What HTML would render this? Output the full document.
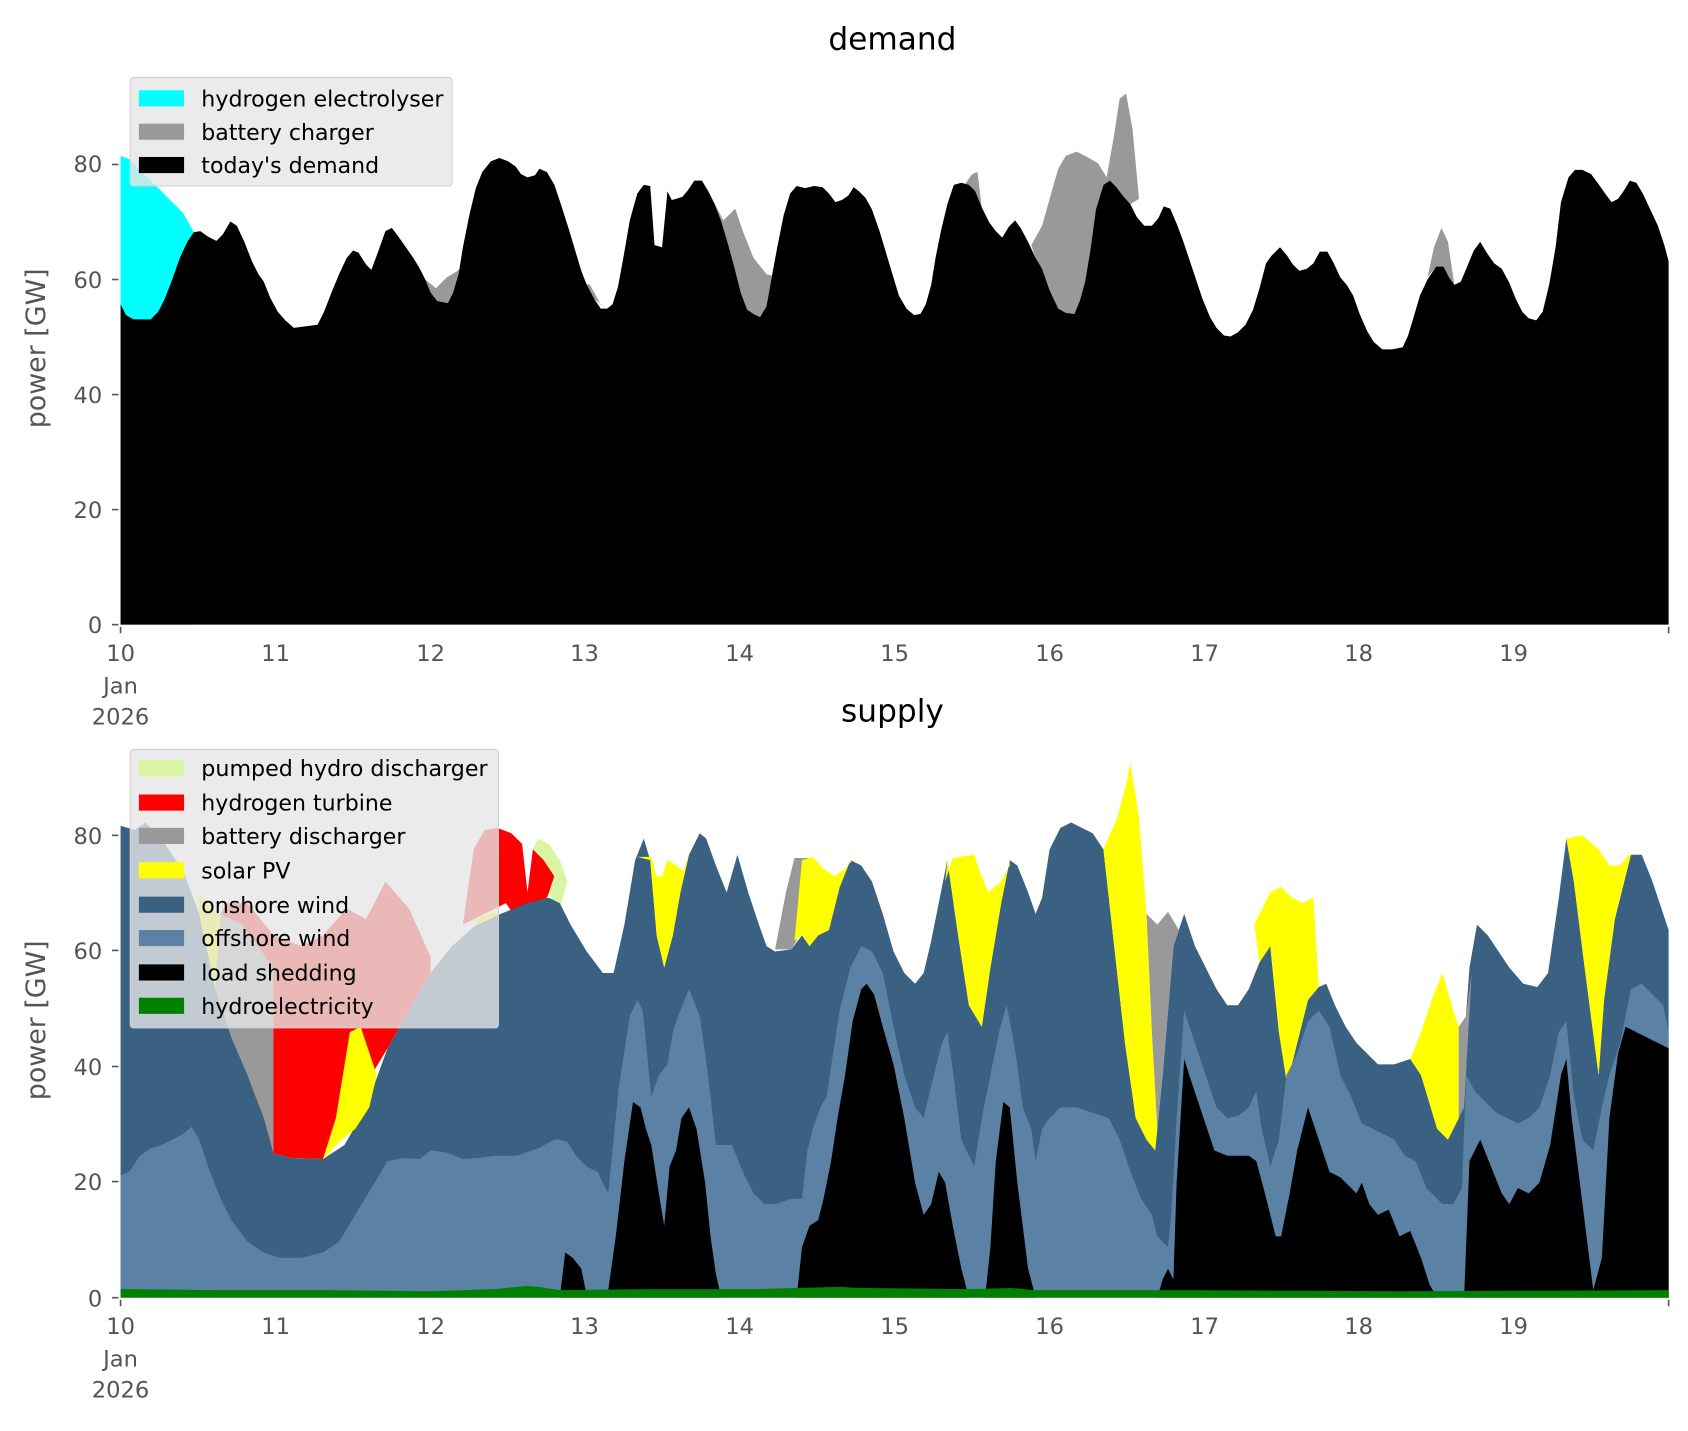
<!DOCTYPE html>
<html><head><meta charset="utf-8"><style>
html,body{margin:0;padding:0;background:#fff;}
svg{display:block;}
text{font-family:"DejaVu Sans","Liberation Sans",sans-serif;}
</style></head><body>
<svg width="1688" height="1431" viewBox="0 0 1568 1331" preserveAspectRatio="none" xmlns="http://www.w3.org/2000/svg">
<rect width="1568" height="1331" fill="#fff"/>
<!-- ===== DEMAND ===== -->
<text x="829" y="46" font-size="29" text-anchor="middle" fill="#000">demand</text>
<polygon fill="#00ffff" points="112,581 112,145 120,148 130,158 140,168 150,178 160,188 170,198 180,216 180,581"/>
<polygon fill="#999" points="395,260 405,268 415,258 425,252 432,245 430,275 421,272 416,282 406,280 400,272"/>
<polygon fill="#999" points="538,262 548,265 558,283 564,287 552,278 545,270"/>
<polygon fill="#999" points="664,190 672,205 683,194 690,215 700,240 712,255 720,257 717,257 712,285 706,295 700,292 694,288 688,272 682,248 676,226 670,206"/>
<polygon fill="#999" points="896,172 903,162 908,160 912,193 906,178"/>
<polygon fill="#999" points="958,228 968,210 975,185 983,157 990,145 1000,141 1010,146 1020,152 1028,165 1035,125 1040,92 1046,87 1052,120 1058,185 1050,190 1043,182 1037,174 1031,168 1025,172 1018,195 1013,232 1008,262 1003,280 998,292 990,291 983,287 975,270 968,250 962,240"/>
<polygon fill="#999" points="1326,258 1332,230 1339,212 1345,225 1351,265 1346,258 1341,248 1334,248"/>
<polygon fill="#000" points="112,581 112,283 117,293 124,297 140,297 147,290 153,278 160,260 167,240 174,225 180,216 186,215 193,220 201,224 207,218 214,206 220,210 227,225 234,243 240,255 245,262 251,277 258,290 265,298 273,305 280,304 295,302 301,290 308,272 315,255 322,240 328,233 333,235 340,246 345,251 352,232 358,215 364,212 370,220 377,230 384,240 390,250 395,260 400,272 406,280 416,282 421,272 426,255 430,230 436,200 442,175 448,160 456,150 464,147 472,150 479,155 484,162 490,165 497,163 501,157 508,160 515,172 521,190 528,212 534,232 540,252 545,265 552,278 558,287 564,287 569,283 574,267 579,240 585,205 592,180 598,172 604,173 608,228 615,230 620,178 624,186 628,185 634,183 639,177 645,168 652,168 658,178 664,190 670,206 676,226 682,248 688,272 694,288 700,292 706,295 712,285 717,257 722,230 728,200 734,180 740,173 748,175 756,173 764,174 770,180 776,188 782,186 788,182 793,174 798,178 804,184 810,195 817,215 823,235 829,255 835,275 842,287 849,293 855,292 860,283 865,265 869,240 874,215 880,190 886,172 893,170 900,172 906,178 912,193 919,207 925,215 931,221 937,211 943,205 948,212 955,225 962,240 968,250 975,270 983,287 990,291 998,292 1003,280 1008,262 1013,232 1018,195 1025,172 1031,168 1037,174 1043,182 1050,190 1056,202 1063,210 1070,210 1076,203 1081,192 1087,194 1093,208 1099,224 1105,242 1111,260 1117,278 1124,295 1130,305 1137,312 1143,313 1150,309 1157,302 1164,288 1170,268 1176,245 1181,238 1189,230 1195,237 1201,246 1207,252 1214,250 1220,245 1226,234 1233,234 1239,245 1245,258 1251,265 1257,275 1263,292 1270,308 1276,318 1284,325 1293,325 1303,323 1308,312 1314,292 1319,275 1326,260 1334,248 1341,248 1346,258 1351,265 1357,262 1362,250 1369,233 1375,225 1381,235 1388,245 1395,250 1402,263 1408,278 1414,290 1420,296 1427,298 1433,290 1439,265 1445,230 1450,188 1457,165 1463,158 1470,158 1478,162 1484,170 1491,180 1497,188 1503,185 1508,178 1514,168 1520,170 1526,180 1533,195 1540,210 1546,228 1550,243 1550,581"/>
<rect x="121" y="72" width="299" height="101" rx="3" fill="#e6e6e6" fill-opacity="0.8" stroke="#d0d0d0" stroke-width="1"/>
<rect x="129" y="84" width="42" height="15" fill="#00ffff"/>
<rect x="129" y="115" width="42" height="15" fill="#999"/>
<rect x="129" y="146" width="42" height="15" fill="#000"/>
<g font-size="20.5" fill="#000">
<text x="187" y="99" textLength="225" lengthAdjust="spacingAndGlyphs">hydrogen electrolyser</text>
<text x="187" y="130">battery charger</text>
<text x="187" y="161">today's demand</text>
</g>
<g font-size="21" fill="#555">
<text x="95" y="160" text-anchor="end">80</text>
<text x="95" y="268" text-anchor="end">60</text>
<text x="95" y="375" text-anchor="end">40</text>
<text x="95" y="482" text-anchor="end">20</text>
<text x="95" y="589" text-anchor="end">0</text>
<text transform="translate(42,324) rotate(-90)" font-size="25" text-anchor="middle">power [GW]</text>
<text x="112" y="615" text-anchor="middle">10</text>
<text x="112" y="645" text-anchor="middle">Jan</text>
<text x="112" y="674" text-anchor="middle">2026</text>
<text x="256" y="615" text-anchor="middle">11</text>
<text x="400" y="615" text-anchor="middle">12</text>
<text x="543" y="615" text-anchor="middle">13</text>
<text x="687" y="615" text-anchor="middle">14</text>
<text x="831" y="615" text-anchor="middle">15</text>
<text x="975" y="615" text-anchor="middle">16</text>
<text x="1119" y="615" text-anchor="middle">17</text>
<text x="1262" y="615" text-anchor="middle">18</text>
<text x="1406" y="615" text-anchor="middle">19</text>
</g>
<g stroke="#555" stroke-width="1.5">
<line x1="104" y1="153" x2="110" y2="153"/><line x1="104" y1="260" x2="110" y2="260"/><line x1="104" y1="367" x2="110" y2="367"/><line x1="104" y1="474" x2="110" y2="474"/><line x1="104" y1="581" x2="110" y2="581"/>
<line x1="112" y1="583" x2="112" y2="589"/><line x1="1550" y1="583" x2="1550" y2="589"/>
</g>

<!-- ===== SUPPLY ===== -->
<text x="829" y="671" font-size="29" text-anchor="middle" fill="#000">supply</text>
<polygon fill="#ff0000" points="186,850 200,860 210,840 230,840 254,870 280,880 300,870 322,845 340,855 358,820 380,845 400,890 400,905 380,940 360,975 345,1000 330,1030 315,1055 300,1078 270,1077 254,1073"/>
<polygon fill="#ff0000" points="430,860 440,790 450,772 462,770 475,775 485,785 490,830 495,790 500,785 505,800 515,815 510,830 500,855 490,870 480,855 470,840 450,850"/>
<polygon fill="#d9f5a4" points="495,790 500,780 510,785 520,800 527,820 520,845 515,840 510,830 515,815 505,800"/>
<polygon fill="#999" points="505,848 515,838 522,848 518,868 507,880"/>
<polygon fill="#ffff00" points="440,855 460,848 470,855 480,870 490,876 495,870 490,882 480,880 465,870 450,868"/>
<polygon fill="#999" points="205,850 225,860 254,900 254,1073 245,1040 230,1000 215,965 200,920"/>
<polygon fill="#ffff00" points="185,830 200,850 205,850 200,920 210,960 205,962 195,920 185,870"/>
<polygon fill="#3b6182" points="112,1207 112,768 125,772 135,765 150,780 170,810 185,850 200,920 215,965 230,1000 245,1040 254,1073 270,1077 300,1078 320,1065 340,1030 360,975 380,940 400,905 420,880 440,862 465,850 490,840 510,835 520,840 530,860 545,885 560,905 570,905 580,860 585,830 590,800 598,780 604,800 610,870 617,900 625,870 632,830 640,795 650,775 656,780 665,805 675,830 685,795 695,830 705,860 712,880 720,885 735,883 745,870 752,880 760,870 770,865 780,825 790,800 800,805 810,820 820,850 830,885 840,905 850,915 858,905 865,875 872,840 880,800 890,870 900,935 912,955 920,900 930,840 938,800 945,805 955,830 962,850 968,835 975,790 985,770 995,765 1005,770 1015,775 1025,790 1035,880 1045,970 1055,1040 1065,1060 1073,1070 1080,1000 1090,880 1100,850 1110,880 1120,900 1130,920 1140,935 1150,935 1160,920 1170,895 1180,880 1188,960 1195,1005 1200,990 1215,930 1225,918 1232,915 1240,935 1250,955 1260,970 1270,980 1280,990 1295,990 1310,985 1320,1000 1335,1050 1345,1060 1355,1040 1365,900 1372,860 1382,870 1392,885 1402,900 1415,915 1428,918 1438,905 1448,835 1455,780 1462,820 1472,900 1485,1000 1490,930 1500,855 1515,795 1525,795 1535,820 1550,865 1550,1207"/>
<polygon fill="#ffff00" points="300,1078 312,1040 325,960 335,955 345,985 350,1000 343,1030 330,1050 315,1062"/>
<polygon fill="#ffff00" points="592,797 605,797 610,815 615,815 620,800 625,803 635,810 640,795 632,830 625,870 617,900 610,870 604,800"/>
<polygon fill="#999" points="720,883 730,830 738,798 752,798 745,830 740,875 735,883"/>
<polygon fill="#ffff00" points="738,875 745,800 755,797 765,808 775,815 785,808 792,800 790,800 780,825 770,865 760,870 752,880 745,870"/>
<polygon fill="#ffff00" points="878,820 885,798 905,795 910,810 918,830 930,820 938,805 938,800 930,840 920,900 912,955 900,935 890,870 880,800"/>
<polygon fill="#ffff00" points="1025,790 1038,760 1046,730 1050,710 1058,760 1065,850 1070,960 1075,1050 1073,1070 1065,1060 1055,1040 1045,970 1035,880"/>
<polygon fill="#999" points="1065,850 1075,860 1085,848 1095,865 1100,850 1090,880 1080,1000 1075,1050 1070,960"/>
<polygon fill="#ffff00" points="1165,860 1180,830 1190,825 1200,835 1210,840 1220,835 1225,918 1215,930 1200,990 1195,1005 1188,960 1180,880 1170,895"/>
<polygon fill="#ffff00" points="1310,985 1320,960 1330,930 1340,905 1350,940 1355,955 1355,1040 1345,1060 1335,1050 1320,1000"/>
<polygon fill="#999" points="1355,955 1362,945 1367,905 1360,1030 1355,1040"/>
<polygon fill="#ffff00" points="1455,780 1470,777 1485,790 1495,805 1505,805 1513,795 1515,795 1500,855 1490,930 1485,1000 1472,900 1462,820"/>
<polygon fill="#5b82a5" points="112,1207 112,1093 120,1090 130,1075 140,1068 150,1065 160,1060 170,1055 178,1048 185,1060 195,1090 205,1115 215,1135 230,1155 245,1165 260,1170 280,1170 300,1165 315,1155 330,1130 345,1105 360,1080 375,1077 390,1078 400,1070 415,1072 430,1078 445,1077 460,1075 480,1075 500,1068 515,1060 520,1060 527,1062 535,1075 545,1085 555,1090 565,1110 575,1010 585,945 592,930 597,940 605,1020 612,1000 620,990 625,960 630,945 640,920 650,945 655,980 660,1020 665,1065 680,1065 690,1090 700,1110 710,1120 720,1120 735,1115 745,1115 750,1070 755,1050 762,1030 768,1020 773,985 780,940 790,900 800,880 810,885 820,905 830,955 840,1000 850,1030 858,1040 865,1010 870,990 875,970 880,960 885,995 893,1060 900,1075 905,1085 912,1040 920,1000 928,960 935,935 940,960 945,990 950,1030 958,1050 962,1080 968,1050 975,1040 985,1030 1000,1030 1015,1035 1030,1040 1040,1060 1050,1090 1060,1115 1070,1130 1075,1150 1085,1160 1088,1130 1093,1040 1100,940 1110,970 1120,1000 1130,1030 1140,1040 1150,1038 1160,1030 1167,1015 1172,1050 1180,1085 1188,1060 1195,1000 1205,980 1215,950 1225,940 1235,955 1245,1000 1255,1020 1265,1045 1275,1050 1285,1055 1295,1060 1305,1075 1315,1080 1325,1105 1340,1120 1350,1120 1358,1105 1362,1000 1370,1015 1380,1025 1390,1035 1400,1040 1410,1045 1420,1040 1430,1030 1440,1000 1448,960 1455,950 1462,1020 1470,1060 1480,1070 1488,1030 1495,1000 1505,970 1515,920 1525,915 1535,925 1545,935 1550,960 1550,1207"/>
<polygon fill="#000" points="520,1207 525,1165 532,1170 540,1180 545,1205 565,1200 572,1150 580,1080 588,1025 595,1030 600,1050 605,1065 612,1110 617,1140 622,1085 628,1070 633,1040 640,1030 647,1050 655,1100 660,1150 665,1185 670,1207"/>
<polygon fill="#000" points="740,1207 745,1160 752,1140 760,1135 765,1115 772,1080 778,1040 785,1000 792,950 800,920 805,915 812,925 820,955 830,990 840,1040 850,1100 858,1130 865,1120 872,1090 878,1100 885,1140 893,1180 900,1207"/>
<polygon fill="#000" points="915,1207 920,1160 925,1080 932,1025 938,1030 945,1100 955,1180 962,1207"/>
<polygon fill="#000" points="1075,1207 1080,1190 1085,1180 1090,1190 1093,1100 1100,985 1108,1010 1118,1040 1128,1070 1140,1075 1150,1075 1160,1075 1167,1080 1175,1110 1185,1150 1190,1150 1198,1110 1205,1070 1215,1030 1225,1060 1235,1090 1245,1095 1255,1105 1260,1110 1265,1100 1272,1120 1280,1130 1290,1125 1300,1150 1310,1145 1320,1170 1328,1195 1335,1207"/>
<polygon fill="#000" points="1360,1207 1365,1080 1375,1060 1385,1085 1395,1110 1402,1120 1410,1105 1420,1110 1430,1100 1440,1065 1450,1000 1455,985 1460,1040 1470,1120 1480,1200 1488,1170 1495,1040 1503,980 1510,955 1520,960 1530,965 1540,970 1550,975 1550,1207"/>
<polygon fill="#008000" points="112,1207 112,1199 200,1200 300,1200 400,1201 460,1199 490,1196 500,1197 520,1200 600,1199 700,1199 780,1197 800,1198 900,1199 940,1198 960,1200 1100,1200 1300,1201 1550,1200 1550,1207"/>
<rect x="121" y="697" width="342" height="259" rx="3" fill="#e6e6e6" fill-opacity="0.8" stroke="#d0d0d0" stroke-width="1"/>
<rect x="129" y="707" width="42" height="15" fill="#d9f5a4"/>
<rect x="129" y="739" width="42" height="15" fill="#ff0000"/>
<rect x="129" y="770" width="42" height="15" fill="#999"/>
<rect x="129" y="802" width="42" height="15" fill="#ffff00"/>
<rect x="129" y="834" width="42" height="15" fill="#3b6182"/>
<rect x="129" y="865" width="42" height="15" fill="#5b82a5"/>
<rect x="129" y="897" width="42" height="15" fill="#000"/>
<rect x="129" y="928" width="42" height="15" fill="#008000"/>
<g font-size="20.5" fill="#000">
<text x="187" y="722" textLength="266" lengthAdjust="spacingAndGlyphs">pumped hydro discharger</text>
<text x="187" y="754">hydrogen turbine</text>
<text x="187" y="785">battery discharger</text>
<text x="187" y="817">solar PV</text>
<text x="187" y="849">onshore wind</text>
<text x="187" y="880">offshore wind</text>
<text x="187" y="912">load shedding</text>
<text x="187" y="943">hydroelectricity</text>
</g>
<g font-size="21" fill="#555">
<text x="95" y="785" text-anchor="end">80</text>
<text x="95" y="892" text-anchor="end">60</text>
<text x="95" y="1000" text-anchor="end">40</text>
<text x="95" y="1107" text-anchor="end">20</text>
<text x="95" y="1215" text-anchor="end">0</text>
<text transform="translate(42,949) rotate(-90)" font-size="25" text-anchor="middle">power [GW]</text>
<text x="112" y="1241" text-anchor="middle">10</text>
<text x="112" y="1271" text-anchor="middle">Jan</text>
<text x="112" y="1300" text-anchor="middle">2026</text>
<text x="256" y="1241" text-anchor="middle">11</text>
<text x="400" y="1241" text-anchor="middle">12</text>
<text x="543" y="1241" text-anchor="middle">13</text>
<text x="687" y="1241" text-anchor="middle">14</text>
<text x="831" y="1241" text-anchor="middle">15</text>
<text x="975" y="1241" text-anchor="middle">16</text>
<text x="1119" y="1241" text-anchor="middle">17</text>
<text x="1262" y="1241" text-anchor="middle">18</text>
<text x="1406" y="1241" text-anchor="middle">19</text>
</g>
<g stroke="#555" stroke-width="1.5">
<line x1="104" y1="777" x2="110" y2="777"/><line x1="104" y1="884" x2="110" y2="884"/><line x1="104" y1="992" x2="110" y2="992"/><line x1="104" y1="1099" x2="110" y2="1099"/><line x1="104" y1="1207" x2="110" y2="1207"/>
<line x1="112" y1="1209" x2="112" y2="1215"/><line x1="1550" y1="1209" x2="1550" y2="1215"/>
</g>
</svg>
</body></html>
